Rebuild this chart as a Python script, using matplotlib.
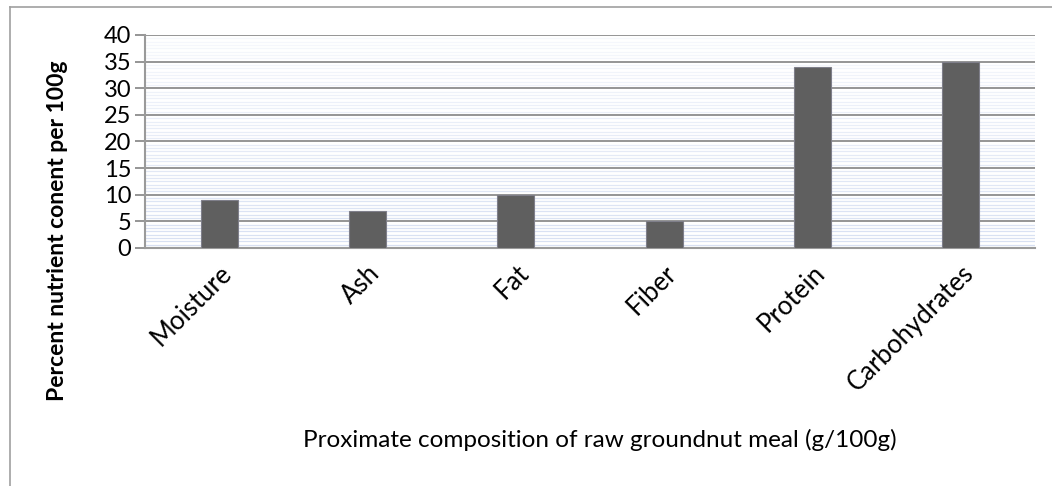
import matplotlib
matplotlib.use('Agg')
import matplotlib.pyplot as plt
import numpy as np
from matplotlib.lines import Line2D

# data
components = ['Moisture', 'Ash', 'Fat', 'Fiber', 'Protein', 'Carbohydrates']
content = [9, 7, 10, 5, 34, 35]
yticks = [0, 5, 10, 15, 20, 25, 30, 35, 40]

plt.rcParams['font.family'] = ['Lato', 'DejaVu Sans']

fig = plt.figure(figsize=(10.52, 4.86), dpi=100)
ax = fig.add_axes([145/1052, 1 - 248/486, (1035 - 145)/1052, (248 - 35)/486])

x = np.arange(len(components))

# light blue minor grid, fading towards the top
for v in np.arange(0, 40, 0.625):
    if v % 5 != 0:
        a = 0.75 - 0.6 * v / 40
        ax.axhline(v, color='#c9d5ee', alpha=a, lw=0.9, zorder=0)
for v in yticks[1:]:
    ax.axhline(v, color='#8c8c8c', lw=1.3, zorder=1)

ax.bar(x, content, width=0.25, color='#5f5f5f', edgecolor='#7f7f8a', lw=0.8, zorder=3)

ax.set_xlim(-0.5, 5.5)
ax.set_ylim(0, 40)
ax.set_yticks(yticks)
ax.set_xticks(x)
ax.set_xticklabels(components, rotation=45, ha='right', rotation_mode='anchor', fontsize=18.5)
ax.tick_params(axis='y', length=7, color='#8c8c8c', width=1.3, labelsize=17, pad=3)
ax.tick_params(axis='x', length=0, pad=9)

for s in ['top', 'right']:
    ax.spines[s].set_visible(False)
for s in ['left', 'bottom']:
    ax.spines[s].set_color('#9a9a9a')
    ax.spines[s].set_linewidth(1.5)

ax.set_ylabel('Percent nutrient conent per 100g', fontsize=16.5, fontweight='bold')
ax.yaxis.set_label_coords(-0.087, 0.08)
fig.text(600/1052, 1 - 440/486, 'Proximate composition of raw groundnut meal (g/100g)',
         fontsize=17.5, ha='center', va='center')

# outer chart frame
fig.add_artist(Line2D([10/1052, 1], [1 - 7/486, 1 - 7/486], color='#a0a0a0', lw=1.2))
fig.add_artist(Line2D([10/1052, 10/1052], [0, 1 - 7/486], color='#a0a0a0', lw=1.2))

fig.savefig('out.png', dpi=100)
